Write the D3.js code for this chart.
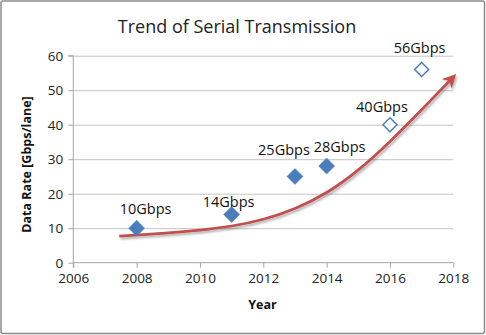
<!DOCTYPE html>
<html><head><meta charset="utf-8">
<script src="https://cdn.jsdelivr.net/npm/d3@7"></script>
<style>
html,body{margin:0;padding:0;background:#fff;}
svg{display:block;font-family:"Open Sans",sans-serif;}
</style></head>
<body>
<script>
// ---- data ----
const years = [2008, 2011, 2013, 2014, 2016, 2017];
const rates = [10, 14, 25, 28, 40, 56];
const filled = [true, true, true, true, false, false];
const labels = ["10Gbps", "14Gbps", "25Gbps", "28Gbps", "40Gbps", "56Gbps"];
// trend arrow path (year, rate)
const trendYears = [2007.45, 2009, 2010, 2011, 2012, 2013, 2014, 2015, 2016, 2017, 2018.0];
const trendRates = [7.7, 8.6, 9.4, 10.5, 12.4, 15.5, 20.0, 26.6, 35.0, 44.3, 53.8];
const xTicks = [2006, 2008, 2010, 2012, 2014, 2016, 2018];
const yTicks = [0, 10, 20, 30, 40, 50, 60];
// label placement offsets (layout, px relative to the point)
const labelOffsets = [[9, -14], [-3, -7], [-11, -21], [13, -14], [-8, -13], [-2, -17]];

const W = 486, H = 335;
const svg = d3.select("body").append("svg").attr("width", W).attr("height", H);

const defs = svg.append("defs");
const flt = defs.append("filter").attr("id", "sh").attr("x", "-10%").attr("y", "-10%").attr("width", "130%").attr("height", "130%");
flt.append("feDropShadow").attr("dx", 1.5).attr("dy", 2).attr("stdDeviation", 1.2).attr("flood-color", "#000").attr("flood-opacity", 0.3);
defs.append("marker").attr("id", "arr").attr("viewBox", "0 0 10 10").attr("refX", 7).attr("refY", 5)
  .attr("markerWidth", 5).attr("markerHeight", 5).attr("orient", "auto")
  .append("path").attr("d", "M0,0 L10,5 L0,10 L3,5 Z").attr("fill", "#c0504d");

// outer border
svg.append("rect").attr("x", 1).attr("y", 1).attr("width", W - 2.5).attr("height", H - 2.5)
  .attr("rx", 2).attr("fill", "#fff").attr("stroke", "#8a8a8a").attr("stroke-width", 1.5);

const x = d3.scaleLinear().domain([2006, 2018]).range([73.3, 453.3]);
const y = d3.scaleLinear().domain([0, 60]).range([262.7, 55.7]);

// gridlines
svg.append("g").selectAll("line").data(yTicks.filter(d => d > 0)).join("line")
  .attr("x1", x(2006)).attr("x2", x(2018)).attr("y1", d => y(d) + 0.5).attr("y2", d => y(d) + 0.5)
  .attr("stroke", "#c4c4c4").attr("stroke-width", 1);

// axes
const yAxis = svg.append("g").attr("transform", `translate(${x(2006)},0)`)
  .call(d3.axisLeft(y).tickValues(yTicks).tickSize(5).tickPadding(5));
const xAxis = svg.append("g").attr("transform", `translate(0,${y(0)})`)
  .call(d3.axisBottom(x).tickValues(xTicks).tickFormat(d3.format("d")).tickSize(5).tickPadding(6));
[yAxis, xAxis].forEach(g => {
  g.select(".domain").attr("stroke", "#a6a6a6");
  g.selectAll(".tick line").attr("stroke", "#a6a6a6");
  g.selectAll(".tick text").attr("fill", "#222").style("font-size", "13.5px").style("font-family", "Open Sans, sans-serif");
});
yAxis.select(".domain").attr("d", `M-5,${y(60)}H0V${y(0)}`);
xAxis.select(".domain").attr("d", `M${x(2006)},5V0H${x(2018)}`);

// title
svg.append("text").attr("x", 237).attr("y", 33).attr("text-anchor", "middle")
  .style("font-size", "18px").attr("fill", "#222").text("Trend of Serial Transmission");

// axis titles
svg.append("text").attr("transform", `translate(31,164.5) rotate(-90)`).attr("text-anchor", "middle")
  .style("font-size", "12.5px").style("font-weight", "bold").attr("fill", "#111").text("Data Rate [Gbps/lane]");
svg.append("text").attr("x", 262.5).attr("y", 309).attr("text-anchor", "middle")
  .style("font-size", "12.5px").style("font-weight", "bold").attr("fill", "#111").text("Year");

// trend arrow
const trend = trendYears.map((d, i) => [d, trendRates[i]]);
svg.append("path").datum(trend)
  .attr("d", d3.line().x(d => x(d[0])).y(d => y(d[1])).curve(d3.curveBasis))
  .attr("fill", "none").attr("stroke", "#c0504d").attr("stroke-width", 2.75)
  .attr("marker-end", "url(#arr)").attr("filter", "url(#sh)");

// points
const pts = years.map((d, i) => ({x: d, y: rates[i], f: filled[i], l: labels[i], o: labelOffsets[i]}));
svg.append("g").selectAll("path").data(pts).join("path")
  .attr("transform", d => `translate(${x(d.x)},${y(d.y)})`)
  .attr("d", d => d.f ? "M0,-8L8,0L0,8L-8,0Z" : "M0,-7L7,0L0,7L-7,0Z")
  .attr("fill", d => d.f ? "#4a7ebb" : "#fff")
  .attr("stroke", "#4a7ebb").attr("stroke-width", d => d.f ? 0.5 : 1.5);

// data labels
svg.append("g").selectAll("text").data(pts).join("text")
  .attr("x", d => x(d.x) + d.o[0]).attr("y", d => y(d.y) + d.o[1])
  .attr("text-anchor", "middle").style("font-size", "14.5px").attr("fill", "#111")
  .text(d => d.l);
</script>
</body></html>
